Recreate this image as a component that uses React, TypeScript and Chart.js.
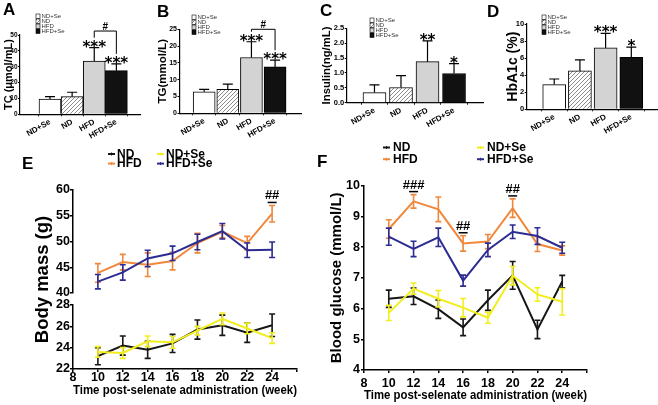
import React, { useEffect, useRef } from 'react';
import { Chart, registerables } from 'chart.js';

Chart.register(...registerables);
const FONT = "'Liberation Sans', Arial, Helvetica, sans-serif";
Chart.defaults.font.family = FONT;
Chart.defaults.color = '#000';

// ---------------- data ----------------
const GROUPS = ['ND+Se', 'ND', 'HFD', 'HFD+Se'];

const TC_MEAN = [9.6, 11.1, 33.6, 27.5];
const TC_SEM = [1.5, 2.8, 8.4, 4.3];
const TC_SIG = ['', '', '***', '***'];

const TG_MEAN = [6.4, 7.1, 16.6, 13.8];
const TG_SEM = [0.7, 1.6, 4.7, 2.0];
const TG_SIG = ['', '', '***', '***'];

const INS_MEAN = [0.34, 0.51, 1.38, 0.98];
const INS_SEM = [0.26, 0.4, 0.7, 0.33];
const INS_SIG = ['', '', '**', '*'];

const HBA_MEAN = [2.9, 4.5, 7.2, 6.1];
const HBA_SEM = [0.65, 1.3, 1.7, 1.2];
const HBA_SIG = ['', '', '***', '*'];

const WEEKS = [10, 12, 14, 16, 18, 20, 22, 24];
const SERIES = ['ND', 'HFD', 'ND+Se', 'HFD+Se'];

const BM_ND = [23.2, 24.2, 23.8, 24.4, 25.7, 26.1, 25.4, 26.1];
const BM_ND_SEM = [0.8, 0.9, 0.8, 0.85, 0.9, 0.95, 0.9, 1.05];
const BM_HFD = [43.9, 46.0, 45.5, 46.2, 49.7, 51.9, 49.7, 55.4];
const BM_HFD_SEM = [1.8, 1.5, 2.3, 1.7, 1.9, 1.2, 1.3, 1.6];
const BM_NDSE = [23.6, 23.5, 24.6, 24.5, 25.6, 26.7, 25.8, 24.9];
const BM_NDSE_SEM = [0.5, 0.5, 0.5, 0.55, 0.4, 0.55, 0.5, 0.5];
const BM_HFDSE = [42.2, 44.0, 46.7, 47.7, 49.9, 52.0, 48.3, 48.4];
const BM_HFDSE_SEM = [1.4, 1.5, 1.6, 1.4, 1.5, 1.5, 1.4, 1.5];
const BM_SIG_WEEKS = [24];
const BM_SIG = ['##'];

const BG_ND = [6.32, 6.4, 5.98, 5.39, 6.27, 7.08, 5.32, 6.88];
const BG_ND_SEM = [0.28, 0.27, 0.3, 0.27, 0.33, 0.45, 0.3, 0.2];
const BG_HFD = [8.59, 9.49, 9.23, 8.12, 8.18, 9.27, 8.1, 7.89];
const BG_HFD_SEM = [0.3, 0.22, 0.4, 0.25, 0.23, 0.3, 0.24, 0.15];
const BG_NDSE = [5.86, 6.65, 6.32, 6.03, 5.7, 7.07, 6.46, 6.22];
const BG_NDSE_SEM = [0.25, 0.18, 0.27, 0.3, 0.18, 0.3, 0.22, 0.43];
const BG_HFDSE = [8.34, 7.94, 8.32, 6.91, 7.91, 8.5, 8.36, 7.98];
const BG_HFDSE_SEM = [0.28, 0.25, 0.3, 0.18, 0.22, 0.22, 0.27, 0.18];
const BG_SIG_WEEKS = [12, 16, 20];
const BG_SIG = ['###', '##', '##'];

const X_TITLE = 'Time post-selenate administration (week)';

// ---------------- styles ----------------
const LINE_COLORS = ['#161616', '#f0883c', '#f2ee1e', '#2c2c92'];
const DRAW_ORDER = [3, 2, 1, 0];

function hatchPattern(): any {
  const c = document.createElement('canvas');
  c.width = 4;
  c.height = 4;
  const g = c.getContext('2d');
  if (!g) return '#ddd';
  g.fillStyle = '#ffffff';
  g.fillRect(0, 0, 4, 4);
  g.strokeStyle = '#8c8c8c';
  g.lineWidth = 1;
  g.beginPath();
  g.moveTo(0, 4); g.lineTo(4, 0);
  g.moveTo(-1, 1); g.lineTo(1, -1);
  g.moveTo(3, 5); g.lineTo(5, 3);
  g.stroke();
  return g.createPattern(c, 'repeat') || '#ddd';
}

// ---------------- plugins ----------------
const errorBarPlugin = {
  id: 'errorBars',
  afterDatasetDraw(chart: any, args: any) {
    const meta = args.meta;
    const ds: any = chart.data.datasets[args.index];
    const errs: number[] | undefined = ds.errors;
    if (!errs) return;
    const xs = chart.scales[meta.xAxisID];
    const ys = chart.scales[meta.yAxisID];
    const ctx = chart.ctx;
    ctx.save();
    ctx.strokeStyle = ds.errorColor || ds.borderColor;
    ctx.lineWidth = ds.errorWidth || 1.5;
    const half = (ds.capWidth || 6) / 2;
    ds.data.forEach((p: any, i: number) => {
      const x = xs.getPixelForValue(p.x);
      const top = ys.getPixelForValue(p.y + errs[i]);
      const bot = ys.getPixelForValue(ds.upperOnly ? p.y : p.y - errs[i]);
      ctx.beginPath();
      ctx.moveTo(x, top); ctx.lineTo(x, bot);
      ctx.moveTo(x - half, top); ctx.lineTo(x + half, top);
      if (!ds.upperOnly) { ctx.moveTo(x - half, bot); ctx.lineTo(x + half, bot); }
      ctx.stroke();
    });
    ctx.restore();
  },
};

function barMarks(s: any) {
  return {
    id: 'barMarks',
    afterDraw(chart: any) {
      const ctx = chart.ctx;
      const xs = chart.scales.x;
      const ys = chart.scales.y;
      const ds: any = chart.data.datasets[0];
      const capPx = (i: number) => ys.getPixelForValue(ds.data[i].y + ds.errors[i]);
      ctx.save();
      ctx.fillStyle = '#000';
      ctx.textAlign = 'center';
      ctx.textBaseline = 'alphabetic';
      ctx.font = "bold 15px 'DejaVu Sans'";
      s.sig.forEach((t: string, i: number) => {
        if (t) ctx.fillText(t, xs.getPixelForValue(i + 1), capPx(i) + 4);
      });
      if (s.bracket) {
        const b = s.bracket;
        const xl = xs.getPixelForValue(b.from + 1);
        const xr = xs.getPixelForValue(b.to + 1);
        const yl = ys.getPixelForValue(b.level);
        ctx.strokeStyle = '#000';
        ctx.lineWidth = 1;
        ctx.beginPath();
        ctx.moveTo(xl, capPx(b.from) - 10);
        ctx.lineTo(xl, yl);
        ctx.lineTo(xr, yl);
        ctx.lineTo(xr, capPx(b.to) - 10);
        ctx.stroke();
        ctx.font = `bold 10px ${FONT}`;
        ctx.fillText(b.label, (xl + xr) / 2, yl - 1.5);
      }
      // mini legend
      const L = s.legend;
      ctx.textAlign = 'left';
      ctx.textBaseline = 'middle';
      ctx.font = `6px ${FONT}`;
      GROUPS.forEach((g, i) => {
        const y = L.y + i * 5;
        ctx.fillStyle = ds.backgroundColor[i];
        ctx.fillRect(L.x, y, 4, 4.5);
        ctx.strokeStyle = '#000';
        ctx.lineWidth = 0.6;
        ctx.strokeRect(L.x, y, 4, 4.5);
        ctx.fillStyle = '#333';
        ctx.fillText(g, L.x + 5.5, y + 2.5);
      });
      ctx.restore();
    },
  };
}

function lineMarks(s: any) {
  return {
    id: 'lineMarks',
    afterDraw(chart: any) {
      const ctx = chart.ctx;
      ctx.save();
      // legend (2 x 2)
      const L = s.legend;
      ctx.font = `bold 12px ${FONT}`;
      ctx.textAlign = 'left';
      ctx.textBaseline = 'middle';
      SERIES.forEach((name, k) => {
        const col = Math.floor(k / 2);
        const row = k % 2;
        const x = L.x + col * L.colW;
        const y = L.y + row * L.rowH;
        ctx.strokeStyle = LINE_COLORS[k];
        ctx.lineWidth = 2;
        ctx.beginPath(); ctx.moveTo(x, y); ctx.lineTo(x + 7, y); ctx.stroke();
        ctx.lineWidth = 1;
        ctx.beginPath(); ctx.moveTo(x + 3.5, y - 1.5); ctx.lineTo(x + 3.5, y + 1.5); ctx.stroke();
        ctx.fillStyle = '#000';
        ctx.fillText(name, x + L.gap, y + 0.5);
      });
      // significance marks above HFD
      const S = s.sig;
      const meta = chart.getDatasetMeta(S.datasetIndex);
      const ds: any = chart.data.datasets[S.datasetIndex];
      const xs = chart.scales[meta.xAxisID];
      const ys = chart.scales[meta.yAxisID];
      S.weeks.forEach((w: number, j: number) => {
        const i = WEEKS.indexOf(w);
        const x = xs.getPixelForValue(w);
        const cap = ys.getPixelForValue(ds.data[i].y + ds.errors[i]);
        ctx.strokeStyle = '#000';
        ctx.lineWidth = 1.5;
        ctx.beginPath(); ctx.moveTo(x - 4.5, cap - 3); ctx.lineTo(x + 4.5, cap - 3); ctx.stroke();
        ctx.font = `bold 13px ${FONT}`;
        ctx.textAlign = 'center';
        ctx.textBaseline = 'alphabetic';
        ctx.fillStyle = '#000';
        ctx.fillText(S.labels[j], x, cap - 6);
      });
      // shared y title across a broken axis
      if (s.yTitle) {
        const T = s.yTitle;
        const top = chart.scales[T.topId].top;
        const bot = chart.scales[T.botId].bottom;
        ctx.translate(T.x, (top + bot) / 2);
        ctx.rotate(-Math.PI / 2);
        ctx.font = `bold ${T.size}px ${FONT}`;
        ctx.textAlign = 'center';
        ctx.textBaseline = 'middle';
        ctx.fillText(T.text, 0, 0);
      }
      ctx.restore();
    },
  };
}

// ---------------- configs ----------------
const GRID = { display: true, drawOnChartArea: false, drawTicks: true, tickLength: 3, color: '#000', lineWidth: 1.5 };
const BORDER = { display: true, color: '#000', width: 1.5 };

function barConfig(s: any) {
  const fills = ['#ffffff', hatchPattern(), '#d3d3d3', '#111111'];
  return {
    type: 'bar',
    data: {
      datasets: [{
        label: s.title,
        data: s.mean.map((v: number, i: number) => ({ x: i + 1, y: v })),
        backgroundColor: fills,
        borderColor: '#000',
        borderWidth: 1,
        barThickness: s.barW,
        errors: s.sem,
        upperOnly: true,
        errorColor: '#000',
        errorWidth: 1.2,
        capWidth: 10,
      }],
    },
    options: {
      responsive: false,
      animation: false,
      devicePixelRatio: 1,
      events: [],
      layout: { padding: { left: 0, top: s.padTop, right: s.padRight, bottom: 0 } },
      plugins: { legend: { display: false }, tooltip: { enabled: false } },
      scales: {
        x: {
          type: 'linear', min: s.xMin, max: s.xMax,
          afterBuildTicks: (sc: any) => { sc.ticks = GROUPS.map((_, i) => ({ value: i + 1 })); },
          afterFit: (sc: any) => { sc.height = s.xAxisH; },
          grid: { ...GRID, tickLength: 2, lineWidth: 1 },
          border: { ...BORDER, width: 1.2 },
          ticks: {
            autoSkip: false, minRotation: 30, maxRotation: 30, padding: 1,
            font: { size: 8, weight: 'bold' },
            callback: (v: number) => GROUPS[Math.round(v) - 1] ?? '',
          },
        },
        y: {
          type: 'linear', min: 0, max: s.yMax,
          afterFit: (sc: any) => { sc.width = s.yAxisW; },
          grid: { ...GRID, tickLength: 2, lineWidth: 1 },
          border: { ...BORDER, width: 1.2 },
          ticks: {
            stepSize: s.yStep, padding: 0.5, autoSkip: false,
            font: { size: s.tickSize, weight: 'bold' },
            callback: (v: number) => (s.decimals ? Number(v).toFixed(s.decimals) : String(v)),
          },
          title: {
            display: true, text: s.title,
            font: { size: s.titleSize, weight: 'bold' },
            padding: { top: s.titlePad, bottom: 0 },
          },
        },
      },
    },
    plugins: [errorBarPlugin, barMarks(s)],
  };
}

function lineDatasets(values: number[][], errs: number[][], axisIds: string[]) {
  return SERIES.map((name, k) => ({
    label: name,
    data: WEEKS.map((w, i) => ({ x: w, y: values[k][i] })),
    borderColor: LINE_COLORS[k],
    backgroundColor: LINE_COLORS[k],
    borderWidth: 2,
    pointRadius: 0,
    pointHoverRadius: 0,
    tension: 0,
    fill: false,
    errors: errs[k],
    errorWidth: 1.6,
    capWidth: 6,
    order: DRAW_ORDER[k],
    yAxisID: axisIds[k],
  }));
}

const lineYTicks = { padding: 0, autoSkip: false, font: { size: 12.5, weight: 'bold' } };

function xWeekAxis(height: number, tickPad: number, titleSize: number, titlePad: number) {
  return {
    type: 'linear', min: 8, max: 26,
    afterFit: (sc: any) => { sc.height = height; },
    grid: GRID,
    border: BORDER,
    ticks: {
      stepSize: 2, autoSkip: false, maxRotation: 0, padding: tickPad,
      font: { size: 12.5, weight: 'bold' },
      callback: (v: number) => (v > 24 ? '' : String(v)),
    },
    title: { display: true, text: X_TITLE, font: { size: titleSize, weight: 'bold' }, padding: { top: 0, bottom: titlePad } },
  };
}

function bodyMassConfig() {
  return {
    type: 'line',
    data: {
      datasets: lineDatasets(
        [BM_ND, BM_HFD, BM_NDSE, BM_HFDSE],
        [BM_ND_SEM, BM_HFD_SEM, BM_NDSE_SEM, BM_HFDSE_SEM],
        ['yBot', 'yTop', 'yBot', 'yTop'],
      ),
    },
    options: {
      responsive: false, animation: false, devicePixelRatio: 1, events: [],
      layout: { padding: { left: 0, top: 50, right: 25, bottom: 0 } },
      plugins: { legend: { display: false }, tooltip: { enabled: false } },
      scales: {
        x: xWeekAxis(36, -2, 12, 6.8),
        yTop: {
          type: 'linear', position: 'left', stack: 'bm', stackWeight: 103, weight: 2,
          min: 40, max: 60,
          afterFit: (sc: any) => { sc.width = 73; },
          grid: GRID, border: BORDER,
          ticks: { ...lineYTicks, stepSize: 5 },
        },
        yGap: {
          type: 'linear', position: 'left', stack: 'bm', stackWeight: 12, weight: 1, display: false,
        },
        yBot: {
          type: 'linear', position: 'left', stack: 'bm', stackWeight: 64, weight: 0,
          min: 22, max: 28,
          afterFit: (sc: any) => { sc.width = 73; },
          grid: GRID, border: BORDER,
          ticks: { ...lineYTicks, stepSize: 2 },
        },
      },
    },
    plugins: [
      errorBarPlugin,
      lineMarks({
        legend: { x: 108, y: 14, colW: 49, rowH: 9.6, gap: 9 },
        sig: { datasetIndex: 1, weeks: BM_SIG_WEEKS, labels: BM_SIG },
        yTitle: { text: 'Body mass (g)', x: 42.5, size: 18.5, topId: 'yTop', botId: 'yBot' },
      }),
    ],
  };
}

function glucoseConfig() {
  return {
    type: 'line',
    data: {
      datasets: lineDatasets(
        [BG_ND, BG_HFD, BG_NDSE, BG_HFDSE],
        [BG_ND_SEM, BG_HFD_SEM, BG_NDSE_SEM, BG_HFDSE_SEM],
        ['y', 'y', 'y', 'y'],
      ),
    },
    options: {
      responsive: false, animation: false, devicePixelRatio: 1, events: [],
      layout: { padding: { left: 0, top: 45.7, right: 71, bottom: 0 } },
      plugins: { legend: { display: false }, tooltip: { enabled: false } },
      scales: {
        x: xWeekAxis(35, 2.6, 12.5, 2),
        y: {
          type: 'linear', position: 'left', min: 4, max: 10,
          afterFit: (sc: any) => { sc.width = 38; },
          grid: GRID, border: BORDER,
          ticks: { ...lineYTicks, stepSize: 1, padding: 1 },
          title: {
            display: true, text: 'Blood glucose (mmol/L)',
            font: { size: 15, weight: 'bold' },
            padding: { top: 1.5, bottom: 0 },
          },
        },
      },
    },
    plugins: [
      errorBarPlugin,
      lineMarks({
        legend: { x: 57, y: 7.5, colW: 94, rowH: 11.7, gap: 10 },
        sig: { datasetIndex: 1, weeks: BG_SIG_WEEKS, labels: BG_SIG },
      }),
    ],
  };
}

const tcConfig = () => barConfig({
  mean: TC_MEAN, sem: TC_SEM, sig: TC_SIG, yMax: 50, yStep: 10, tickSize: 6.5,
  title: 'TC (μmol/mL)', titleSize: 11, titlePad: 2.8,
  xMin: 0.322, xMax: 4.39, barW: 22,
  yAxisW: 20, padTop: 35, padRight: 18, xAxisH: 25.7,
  legend: { x: 36, y: 14 },
  bracket: { from: 2, to: 3, level: 52.5, label: '#' },
});

const tgConfig = () => barConfig({
  mean: TG_MEAN, sem: TG_SEM, sig: TG_SIG, yMax: 25, yStep: 5, tickSize: 7,
  title: 'TG(mmol/L)', titleSize: 11.5, titlePad: 1.4,
  xMin: 0.603, xMax: 4.48, barW: 22,
  yAxisW: 24.5, padTop: 29.3, padRight: 16.3, xAxisH: 26.7,
  legend: { x: 37, y: 15 },
  bracket: { from: 2, to: 3, level: 25, label: '#' },
});

const insConfig = () => barConfig({
  mean: INS_MEAN, sem: INS_SEM, sig: INS_SIG, yMax: 2.5, yStep: 0.5, decimals: 1, tickSize: 7.5,
  title: 'Insulin(ng/mL)', titleSize: 11.3, titlePad: 1.9,
  xMin: 0.595, xMax: 4.45, barW: 23,
  yAxisW: 28.7, padTop: 28.3, padRight: 3, xAxisH: 37.3,
  legend: { x: 52, y: 18 },
});

const hbaConfig = () => barConfig({
  mean: HBA_MEAN, sem: HBA_SEM, sig: HBA_SIG, yMax: 10, yStep: 2, tickSize: 7.5,
  title: 'HbA1c (%)', titleSize: 14, titlePad: 4.4,
  xMin: 0.568, xMax: 4.4, barW: 23,
  yAxisW: 26.7, padTop: 24, padRight: 0, xAxisH: 30.7,
  legend: { x: 42, y: 15 },
});

// ---------------- components ----------------
function ChartCanvas({ x, y, w, h, make }: any) {
  const ref = useRef<HTMLCanvasElement>(null);
  useEffect(() => {
    const c = ref.current;
    if (!c) return;
    const chart = new Chart(c, make());
    return () => chart.destroy();
  }, [make]);
  return (
    <canvas
      ref={ref}
      width={w}
      height={h}
      style={{ position: 'absolute', left: x, top: y, width: w, height: h }}
    />
  );
}

function Letter({ t, x, y, size }: any) {
  return (
    <div
      style={{
        position: 'absolute', left: x, top: y, fontFamily: FONT, fontWeight: 'bold',
        fontSize: size, lineHeight: `${size}px`, color: '#000',
      }}
    >
      {t}
    </div>
  );
}

export default function App() {
  return (
    <div style={{ position: 'absolute', left: 0, top: 0, width: 658, height: 405, background: '#fff', overflow: 'hidden' }}>
      <ChartCanvas x={0} y={0} w={158} h={140} make={tcConfig} />
      <ChartCanvas x={155} y={0} w={163} h={140} make={tgConfig} />
      <ChartCanvas x={318} y={0} w={168} h={140} make={insConfig} />
      <ChartCanvas x={500} y={0} w={158} h={140} make={hbaConfig} />
      <ChartCanvas x={0} y={140} w={322} h={265} make={bodyMassConfig} />
      <ChartCanvas x={326} y={140} w={332} h={265} make={glucoseConfig} />
      <Letter t="A" x={3} y={1.1} size={17} />
      <Letter t="B" x={157} y={3.3} size={17} />
      <Letter t="C" x={320} y={2.3} size={17} />
      <Letter t="D" x={487} y={3.3} size={17} />
      <Letter t="E" x={22} y={154.8} size={17} />
      <Letter t="F" x={317} y={152.8} size={17} />
    </div>
  );
}
